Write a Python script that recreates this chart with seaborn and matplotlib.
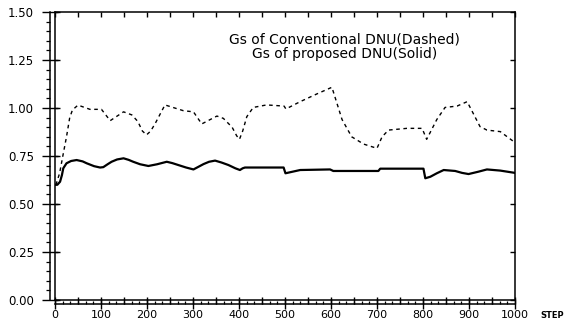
import matplotlib
matplotlib.use("Agg")
import matplotlib.pyplot as plt
from matplotlib.ticker import MultipleLocator, FixedLocator, NullLocator
import pandas as pd
import seaborn as sns

# Gs of the conventional DNU (dashed curve)
conv_steps = [2, 10, 17, 25, 32, 38, 50, 76, 101, 120, 149, 167, 180, 190, 199,
              208, 218, 239, 279, 301, 319, 352, 366, 385, 395, 401, 408, 417,
              431, 460, 498, 502, 533, 569, 602, 613, 624, 645, 671, 700, 711,
              725, 765, 798, 808, 830, 848, 874, 896, 924, 939, 968, 1000]
conv_gs = [0.60, 0.66, 0.75, 0.85, 0.95, 0.99, 1.015, 0.993, 0.993, 0.934,
           0.98, 0.964, 0.93, 0.88, 0.86, 0.88, 0.92, 1.016, 0.986, 0.98,
           0.917, 0.958, 0.946, 0.90, 0.855, 0.837, 0.88, 0.955, 1.003, 1.016,
           1.01, 0.995, 1.033, 1.073, 1.108, 1.024, 0.94, 0.85, 0.812, 0.79,
           0.85, 0.885, 0.894, 0.894, 0.837, 0.94, 1.003, 1.01, 1.033, 0.903,
           0.885, 0.877, 0.82]

# Gs of the proposed DNU (solid curve)
prop_steps = [0, 5, 11, 15, 18, 25, 35, 47, 60, 69, 85, 98, 105, 115, 123, 135,
              149, 160, 170, 185, 203, 222, 243, 255, 268, 285, 301, 312, 323,
              335, 348, 362, 377, 392, 402, 408, 413, 497, 501, 533, 598, 605,
              703, 707, 801, 805, 816, 830, 845, 870, 885, 899, 920, 939, 968,
              1000]
prop_gs = [0.60, 0.60, 0.616, 0.65, 0.686, 0.712, 0.724, 0.729, 0.722, 0.712,
           0.697, 0.69, 0.692, 0.708, 0.72, 0.732, 0.738, 0.73, 0.72, 0.707,
           0.698, 0.707, 0.72, 0.713, 0.703, 0.69, 0.68, 0.694, 0.708, 0.72,
           0.726, 0.716, 0.703, 0.686, 0.677, 0.686, 0.69, 0.69, 0.66, 0.677,
           0.68, 0.672, 0.672, 0.684, 0.684, 0.634, 0.642, 0.66, 0.677, 0.672,
           0.662, 0.656, 0.668, 0.68, 0.674, 0.662]

y_ticks = [0.00, 0.25, 0.50, 0.75, 1.00, 1.25, 1.50]
x_ticks = [0, 100, 200, 300, 400, 500, 600, 700, 800, 900, 1000]

legend_lines = ["Gs of Conventional DNU(Dashed)", "Gs of proposed DNU(Solid)"]

sns.set_theme(style="ticks")
plt.rcParams["font.family"] = ["DejaVu Sans"]

XLIM = (0, 1000)
YLIM = (0, 1.5)

fig = plt.figure(figsize=(5.66, 3.23), dpi=100)
pos = [55 / 566, 1 - 300 / 323, 460 / 566, 288 / 323]

# data area: the two curves
ax = fig.add_axes(pos)
ax.patch.set_visible(False)
conv_df = pd.DataFrame({"step": conv_steps, "gs": conv_gs})
prop_df = pd.DataFrame({"step": prop_steps, "gs": prop_gs})
sns.lineplot(data=conv_df, x="step", y="gs", ax=ax, color="black",
             linewidth=1.0, linestyle=(0, (2.6, 2.6)), sort=False)
sns.lineplot(data=prop_df, x="step", y="gs", ax=ax, color="black",
             linewidth=1.6, sort=False)
ax.set_xlim(*XLIM)
ax.set_ylim(*YLIM)
ax.set_xlabel("")
ax.set_ylabel("")
ax.set_axis_off()

# offset axis lines carrying the scales and labels
ax2 = fig.add_axes(pos)
ax2.patch.set_visible(False)
ax2.set_xlim(*XLIM)
ax2.set_ylim(*YLIM)
for name in ["top", "right"]:
    ax2.spines[name].set_visible(False)
ax2.spines["left"].set_position(("outward", 3.6))
ax2.spines["bottom"].set_position(("outward", 2.9))
for name in ["left", "bottom"]:
    ax2.spines[name].set_linewidth(1.1)
    ax2.spines[name].set_color("black")
ax2.xaxis.set_ticks_position("bottom")
ax2.yaxis.set_ticks_position("left")
ax2.xaxis.set_major_locator(FixedLocator(x_ticks))
ax2.xaxis.set_minor_locator(MultipleLocator(50 / 3))
ax2.yaxis.set_major_locator(FixedLocator(y_ticks))
ax2.yaxis.set_minor_locator(MultipleLocator(0.05))
ax2.set_xticklabels([str(v) for v in x_ticks])
ax2.set_yticklabels([f"{v:.2f}" for v in y_ticks])
ax2.tick_params(axis="x", which="major", direction="inout", length=7.5,
                width=1.0, pad=0.5, labelsize=8, color="black",
                labelcolor="black")
ax2.tick_params(axis="x", which="minor", direction="in", length=2.2,
                width=0.9, color="black")
ax2.tick_params(axis="y", which="major", direction="inout", length=12,
                width=1.0, pad=5.5, labelsize=8.5, color="black",
                labelcolor="black")
ax2.tick_params(axis="y", which="minor", direction="out", length=2.9,
                width=0.9, color="black")

# half-hundred ticks rising from the lower axis line
ax3 = fig.add_axes(pos)
ax3.patch.set_visible(False)
ax3.set_xlim(*XLIM)
ax3.set_ylim(*YLIM)
for name in ["top", "right", "left", "bottom"]:
    ax3.spines[name].set_visible(False)
ax3.spines["bottom"].set_position(("outward", 2.9))
ax3.xaxis.set_major_locator(MultipleLocator(50))
ax3.xaxis.set_minor_locator(NullLocator())
ax3.yaxis.set_major_locator(NullLocator())
ax3.yaxis.set_minor_locator(NullLocator())
ax3.tick_params(axis="x", which="major", direction="in", length=5.2,
                width=1.0, labelbottom=False, bottom=True, top=False,
                color="black")
ax3.tick_params(axis="y", left=False, labelleft=False)

# closed frame with inward ticks along the top and both sides
axf = fig.add_axes(pos)
axf.patch.set_visible(False)
axf.set_xlim(*XLIM)
axf.set_ylim(*YLIM)
for sp in axf.spines.values():
    sp.set_visible(True)
    sp.set_linewidth(1.1)
    sp.set_color("black")
axf.xaxis.set_ticks_position("top")
axf.xaxis.set_major_locator(MultipleLocator(50))
axf.xaxis.set_minor_locator(NullLocator())
axf.yaxis.set_ticks_position("both")
axf.yaxis.set_major_locator(FixedLocator(y_ticks))
axf.yaxis.set_minor_locator(NullLocator())
axf.tick_params(axis="x", which="major", direction="in", length=3.5,
                width=1.0, top=True, bottom=False, labeltop=False,
                labelbottom=False, color="black")
axf.tick_params(axis="y", which="major", direction="in", length=3.6,
                width=1.0, left=True, right=True, labelleft=False,
                labelright=False, color="black")

axf.text(1.08, -0.055, "STEP", transform=axf.transAxes, fontsize=6,
         fontweight="bold", ha="center", va="center", color="black")
axf.text(0.63, 0.905, legend_lines[0], transform=axf.transAxes, fontsize=10,
         ha="center", va="center", color="black")
axf.text(0.63, 0.853, legend_lines[1], transform=axf.transAxes, fontsize=10,
         ha="center", va="center", color="black")

fig.savefig("out.png", dpi=100, facecolor="white")
